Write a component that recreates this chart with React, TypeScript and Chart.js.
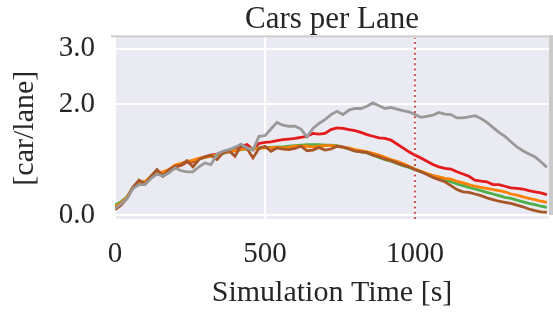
import React, { useEffect, useRef } from "react";
import { Chart, registerables } from "chart.js";

Chart.register(...registerables);

const times = [
  0, 20, 40, 60, 80, 100, 120, 140, 160, 180, 200, 220, 240, 260, 280, 300, 320, 340, 360, 380,
  400, 420, 440, 460, 480, 500, 520, 540, 560, 580, 600, 620, 640, 660, 680, 700, 720, 740, 760, 780,
  800, 820, 840, 860, 880, 900, 920, 940, 960, 980, 1000, 1020, 1040, 1060, 1080, 1100, 1120, 1140, 1160, 1180,
  1200, 1220, 1240, 1260, 1280, 1300, 1320, 1340, 1360, 1380, 1400, 1420, 1440,
];

const grayValues = [
  0.12, 0.2, 0.3, 0.48, 0.55, 0.55, 0.66, 0.74, 0.7, 0.76, 0.85, 0.8, 0.78, 0.78, 0.87, 0.94, 0.91, 1.1, 1.15, 1.18,
  1.22, 1.28, 1.21, 1.17, 1.42, 1.43, 1.55, 1.67, 1.62, 1.6, 1.6, 1.55, 1.41, 1.56, 1.65, 1.72, 1.81, 1.87, 1.81, 1.89,
  1.92, 1.92, 1.96, 2.02, 1.97, 1.92, 1.94, 1.91, 1.88, 1.86, 1.81, 1.76, 1.78, 1.8, 1.85, 1.82, 1.81, 1.75, 1.75, 1.77,
  1.79, 1.74, 1.67, 1.58, 1.49, 1.42, 1.32, 1.23, 1.16, 1.1, 1.05, 0.96, 0.86,
];

const redValues = [
  0.14, 0.2, 0.31, 0.5, 0.6, 0.56, 0.68, 0.78, 0.7, 0.78, 0.86, 0.9, 0.95, 0.96, 1.02, 1.05, 1.08, 1.1, 1.14, 1.16,
  1.19, 1.24, 1.27, 1.18, 1.29, 1.31, 1.32, 1.34, 1.36, 1.37, 1.38, 1.4, 1.42, 1.47, 1.46, 1.47, 1.54, 1.57, 1.56, 1.54,
  1.52, 1.49, 1.45, 1.42, 1.39, 1.38, 1.35, 1.28, 1.21, 1.14, 1.08, 1.03, 0.97, 0.91, 0.87, 0.84, 0.83, 0.78, 0.74, 0.7,
  0.63, 0.61, 0.6, 0.55, 0.55, 0.52, 0.49, 0.48, 0.47, 0.44, 0.42, 0.4, 0.37,
];

const greenValues = [
  0.18, 0.24, 0.33, 0.5, 0.6, 0.6, 0.68, 0.76, 0.74, 0.8, 0.87, 0.92, 0.96, 0.98, 1.01, 1.04, 1.06, 1.08, 1.11, 1.14,
  1.16, 1.18, 1.19, 1.2, 1.21, 1.22, 1.22, 1.23, 1.23, 1.24, 1.25, 1.26, 1.27, 1.27, 1.27, 1.26, 1.26, 1.25, 1.22, 1.19,
  1.16, 1.14, 1.12, 1.08, 1.04, 1.0, 0.97, 0.93, 0.89, 0.86, 0.82, 0.78, 0.74, 0.71, 0.68, 0.64, 0.6, 0.56, 0.53, 0.5,
  0.47, 0.44, 0.41, 0.38, 0.35, 0.32, 0.3, 0.27, 0.24, 0.21, 0.19, 0.16, 0.14,
];

const orangeValues = [
  0.15, 0.22, 0.32, 0.5, 0.6, 0.6, 0.7, 0.76, 0.78, 0.82, 0.9, 0.93, 0.96, 0.99, 1.02, 1.04, 1.06, 1.09, 1.12, 1.14,
  1.16, 1.18, 1.2, 1.19, 1.2, 1.21, 1.21, 1.22, 1.21, 1.22, 1.24, 1.24, 1.24, 1.23, 1.24, 1.25, 1.25, 1.24, 1.22, 1.21,
  1.18, 1.16, 1.14, 1.11, 1.08, 1.04, 1.0, 0.97, 0.93, 0.88, 0.83, 0.79, 0.75, 0.71, 0.69, 0.66, 0.65, 0.61, 0.58, 0.55,
  0.52, 0.5, 0.48, 0.46, 0.44, 0.42, 0.38, 0.36, 0.33, 0.3, 0.28, 0.25, 0.23,
];

const brownValues = [
  0.1, 0.18, 0.3, 0.5, 0.63, 0.56, 0.7, 0.82, 0.7, 0.82, 0.88, 0.9, 0.98, 0.87, 1.0, 1.05, 1.08, 1.0, 1.12, 1.16,
  1.06, 1.25, 1.2, 1.03, 1.2, 1.24, 1.15, 1.21, 1.19, 1.18, 1.2, 1.24, 1.16, 1.17, 1.22, 1.17, 1.19, 1.24, 1.23, 1.19,
  1.15, 1.14, 1.13, 1.08, 1.05, 1.01, 0.98, 0.94, 0.9, 0.87, 0.82, 0.78, 0.73, 0.68, 0.64, 0.6, 0.53, 0.46, 0.42, 0.41,
  0.38, 0.35, 0.31, 0.28, 0.25, 0.23, 0.21, 0.18, 0.15, 0.11, 0.08, 0.06, 0.05,
];

const markerTime = 1000;
const xTickValues = [0, 500, 1000];
const yTickValues = [0, 2, 3];
const xMin = 0;
const xMax = 1447;
const yMin = -0.07;
const yMax = 3.2;

const FONT = "'Liberation Serif', 'Times New Roman', serif";
const TEXT = "#262626";

const toPoints = (vals: number[]) => vals.map((v, i) => ({ x: times[i], y: v }));

const framePlugin = {
  id: "frame",
  beforeDraw(chart: any) {
    const { ctx, chartArea } = chart;
    const { left, top, right, bottom } = chartArea;
    ctx.save();
    ctx.fillStyle = "#EAEAF2";
    ctx.fillRect(left, top, right - left, bottom - top);
    ctx.fillStyle = "#cbcbcb";
    ctx.fillRect(left - 4, top - 2, right - left + 8, 2);
    ctx.fillRect(right, top - 2, 4, bottom - top - 2);
    ctx.restore();
  },
};

export default function App() {
  const ref = useRef<HTMLCanvasElement>(null);
  useEffect(() => {
    if (!ref.current) return;
    const line = (data: number[], color: string) => ({
      data: toPoints(data),
      borderColor: color,
      backgroundColor: color,
      borderWidth: 2.8,
      pointRadius: 0,
      tension: 0,
      fill: false,
    });
    const chart = new Chart(ref.current, {
      type: "line",
      data: {
        datasets: [
          {
            data: [
              { x: markerTime, y: yMin },
              { x: markerTime, y: yMax },
            ],
            borderColor: "#c44e52",
            borderWidth: 2,
            borderDash: [2, 3.3],
            pointRadius: 0,
            fill: false,
          },
          line(grayValues, "#999999"),
          line(brownValues, "#a65628"),
          line(orangeValues, "#ff7f00"),
          line(greenValues, "#4daf4a"),
          line(redValues, "#e41a1c"),
        ],
      },
      options: {
        animation: false,
        responsive: false,
        layout: { padding: { left: 0, right: 4, top: 0, bottom: 0 } },
        plugins: {
          legend: { display: false },
          tooltip: { enabled: false },
          title: {
            display: true,
            fullSize: false,
            text: "Cars per Lane",
            color: TEXT,
            font: { family: FONT, size: 31, weight: "normal", lineHeight: 1 },
            padding: { top: 2, bottom: 2 },
          },
        },
        scales: {
          x: {
            type: "linear",
            min: xMin,
            max: xMax,
            afterBuildTicks: (s: any) => {
              s.ticks = xTickValues.map((value) => ({ value }));
            },
            afterFit: (s: any) => {
              s.height = 96;
            },
            ticks: {
              color: TEXT,
              font: { family: FONT, size: 29 },
              padding: 18,
              maxRotation: 0,
              callback: (v: any) => String(v),
            },
            grid: { color: "#ffffff", lineWidth: 2, drawTicks: false },
            border: { display: false },
            title: {
              display: true,
              text: "Simulation Time [s]",
              color: TEXT,
              font: { family: FONT, size: 30, lineHeight: 1 },
              padding: { top: 0, bottom: 7 },
            },
          },
          y: {
            type: "linear",
            min: yMin,
            max: yMax,
            afterBuildTicks: (s: any) => {
              s.ticks = yTickValues.map((value) => ({ value }));
            },
            afterFit: (s: any) => {
              s.width = 115;
            },
            ticks: {
              color: TEXT,
              font: { family: FONT, size: 29 },
              padding: 20,
              callback: (v: any) => Number(v).toFixed(1),
            },
            grid: { color: "#ffffff", lineWidth: 2, drawTicks: false },
            border: { display: false },
            title: {
              display: true,
              text: "[car/lane]",
              color: TEXT,
              font: { family: FONT, size: 30, lineHeight: 1 },
              padding: { top: 10, bottom: 0 },
            },
          },
        },
      },
      plugins: [framePlugin],
    } as any);
    return () => chart.destroy();
  }, []);
  return (
    <div style={{ position: "fixed", left: 0, top: 0, width: 553, height: 315, background: "#fff" }}>
      <canvas ref={ref} width={553} height={315} style={{ display: "block" }} />
    </div>
  );
}
